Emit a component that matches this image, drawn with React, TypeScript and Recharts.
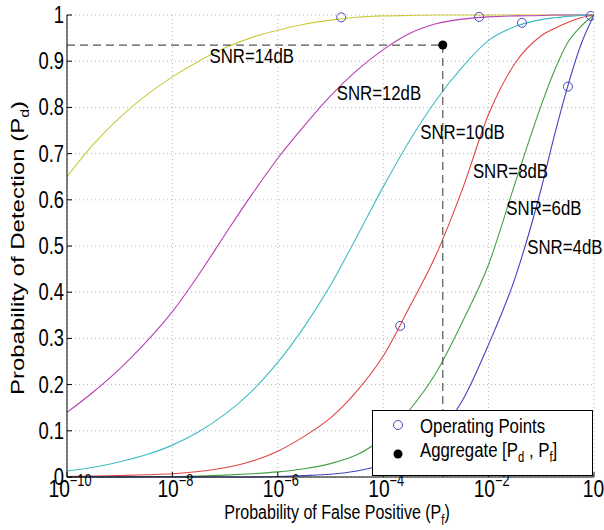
import React from "react";
import {
  ComposedChart,
  Line,
  Scatter,
  XAxis,
  YAxis,
  CartesianGrid,
  ReferenceDot,
} from "recharts";

// false positive grid shared by every ROC curve (half decades, finer near 1)
const pfGrid = [
  1e-10, 3.16e-10, 1e-9, 3.16e-9, 1e-8, 3.16e-8, 1e-7, 3.16e-7, 1e-6, 3.16e-6, 1e-5, 3.16e-5,
  1e-4, 3.16e-4, 1e-3, 3.16e-3, 1e-2, 3.16e-2, 0.1, 0.178, 0.316, 0.562, 1,
];

// detection probability for each SNR
const snr14 = [0.65, 0.72, 0.778, 0.826, 0.866, 0.9, 0.929, 0.951, 0.967, 0.98, 0.989, 0.995, 0.998, 0.999, 1, 1, 1, 1, 1, 1, 1, 1, 1];
const snr12 = [0.14, 0.184, 0.234, 0.292, 0.358, 0.438, 0.525, 0.61, 0.69, 0.76, 0.825, 0.88, 0.925, 0.96, 0.981, 0.991, 0.996, 0.998, 0.999, 1, 1, 1, 1];
const snr10 = [0.013, 0.021, 0.033, 0.048, 0.069, 0.098, 0.136, 0.185, 0.248, 0.325, 0.415, 0.52, 0.628, 0.728, 0.815, 0.887, 0.945, 0.975, 0.99, 0.994, 0.997, 0.999, 1];
const snr8 = [0.001, 0.002, 0.003, 0.005, 0.007, 0.012, 0.02, 0.034, 0.056, 0.088, 0.128, 0.186, 0.262, 0.368, 0.48, 0.622, 0.785, 0.895, 0.955, 0.971, 0.984, 0.994, 1];
const snr6 = [0, 0, 0, 0.001, 0.001, 0.002, 0.004, 0.007, 0.011, 0.018, 0.029, 0.048, 0.085, 0.145, 0.225, 0.335, 0.46, 0.635, 0.805, 0.88, 0.94, 0.975, 1];
const snr4 = [0, 0, 0, 0, 0, 0, 0, 0, 0.001, 0.003, 0.006, 0.013, 0.027, 0.05, 0.09, 0.165, 0.287, 0.43, 0.625, 0.74, 0.845, 0.935, 1];

const curveNames = ["SNR=14dB", "SNR=12dB", "SNR=10dB", "SNR=8dB", "SNR=6dB", "SNR=4dB"];
const curveValues = [snr14, snr12, snr10, snr8, snr6, snr4];
const curveColors = ["#caca3e", "#b640b6", "#40bcc4", "#e04444", "#44a044", "#4444c4"];

// where each curve label sits (data coordinates)
const labelPf = [3.2e-7, 8.3e-5, 3.2e-3, 0.026, 0.112, 0.28];
const labelPd = [0.913, 0.833, 0.747, 0.664, 0.584, 0.498];

// operating points and the aggregate point
const opPf = [1.6e-5, 6.6e-3, 0.043, 2.1e-4, 0.87, 0.32];
const opPd = [0.995, 0.996, 0.983, 0.327, 0.998, 0.845];
const aggPf = 1.35e-3;
const aggPd = 0.935;

const xTicks = [1e-10, 1e-8, 1e-6, 1e-4, 1e-2, 1];
const yTicks = [0, 0.1, 0.2, 0.3, 0.4, 0.5, 0.6, 0.7, 0.8, 0.9, 1];

const sans = "'Liberation Sans', Arial, sans-serif";
const SQ = 0.8; // the original figure's text is horizontally squeezed

const curves = curveValues.map((vals) => vals.map((pd, i) => ({ pf: pfGrid[i], pd })));
const opData = opPf.map((pf, i) => ({ pf, pd: opPd[i] }));
const aggData = [{ pf: aggPf, pd: aggPd }];
const hDash = [
  { pf: 1e-10, pd: aggPd },
  { pf: aggPf, pd: aggPd },
];
const vDash = [
  { pf: aggPf, pd: aggPd },
  { pf: aggPf, pd: 0 },
];

const Squeezed = ({ x, y, size, anchor = "start", children }: any) => (
  <g transform={`translate(${x},${y}) scale(${SQ},1)`}>
    <text x={0} y={0} textAnchor={anchor} fontFamily={sans} fontSize={size} fill="#000">
      {children}
    </text>
  </g>
);

const BottomTick = (props: any) => {
  const { x, y, payload } = props;
  const exp = Math.round(Math.log10(payload.value));
  return (
    <g>
      <line x1={x} x2={x} y1={y} y2={y - 5} stroke="#000" />
      <Squeezed x={x + 3} y={y + 20} size={24} anchor="middle">
        10
        <tspan dy={-11} fontSize={16}>
          {exp < 0 ? "\u2212" + Math.abs(exp) : String(exp)}
        </tspan>
      </Squeezed>
    </g>
  );
};

const TopTick = (props: any) => {
  const { x, y } = props;
  return <line x1={x} x2={x} y1={y} y2={y + 5} stroke="#000" />;
};

const LeftTick = (props: any) => {
  const { x, y, payload } = props;
  return (
    <g>
      <line x1={x} x2={x + 5} y1={y} y2={y} stroke="#000" />
      <Squeezed x={x - 3} y={y + 8} size={23} anchor="end">
        {String(payload.value)}
      </Squeezed>
    </g>
  );
};

const RightTick = (props: any) => {
  const { x, y } = props;
  return <line x1={x} x2={x - 5} y1={y} y2={y} stroke="#000" />;
};

const OpenCircle = (props: any) => (
  <circle cx={props.cx} cy={props.cy} r={4.5} fill="none" stroke="#4848c0" strokeWidth={1} />
);

const BlackDot = (props: any) => <circle cx={props.cx} cy={props.cy} r={4.5} fill="#000" />;

const CurveLabel = (props: any) => {
  const { viewBox, value } = props;
  const cx = viewBox.x + (viewBox.width || 0) / 2;
  const cy = viewBox.y + (viewBox.height || 0) / 2;
  return (
    <Squeezed x={cx} y={cy + 7.5} size={21} anchor="middle">
      {value}
    </Squeezed>
  );
};

export default function App() {
  return (
    <div style={{ position: "absolute", left: 0, top: 0, width: 604, height: 530, background: "#fff" }}>
      <ComposedChart width={604} height={530} margin={{ top: 15, right: 10, bottom: 0, left: 0 }}>
        <CartesianGrid stroke="#b8b8b8" strokeDasharray="1 3" />
        <XAxis
          dataKey="pf"
          type="number"
          scale="log"
          domain={[1e-10, 1]}
          ticks={xTicks}
          allowDataOverflow
          height={53}
          tickSize={0}
          tickMargin={0}
          tick={<BottomTick />}
          axisLine={{ stroke: "#000" }}
          label={{
            content: () => (
              <Squeezed x={337} y={519} size={20} anchor="middle">
                Probability of False Positive (P
                <tspan dy={6} fontSize={14}>f</tspan>
                <tspan dy={-6}>)</tspan>
              </Squeezed>
            ),
          }}
        />
        <XAxis
          xAxisId="top"
          orientation="top"
          dataKey="pf"
          type="number"
          scale="log"
          domain={[1e-10, 1]}
          ticks={xTicks}
          allowDataOverflow
          height={0}
          tickSize={0}
          tickMargin={0}
          tick={<TopTick />}
          axisLine={{ stroke: "#000" }}
        />
        <YAxis
          type="number"
          domain={[0, 1]}
          ticks={yTicks}
          width={67}
          tickSize={0}
          tickMargin={0}
          tick={<LeftTick />}
          axisLine={{ stroke: "#000" }}
          label={{
            content: () => (
              <g transform={`translate(24,248) scale(${SQ},1) rotate(-90)`}>
                <text x={0} y={0} textAnchor="middle" fontFamily={sans} fontSize={24} fill="#000">
                  Probability of Detection (P
                  <tspan dy={6} fontSize={16}>d</tspan>
                  <tspan dy={-6}>)</tspan>
                </text>
              </g>
            ),
          }}
        />
        <YAxis
          yAxisId="right"
          orientation="right"
          type="number"
          domain={[0, 1]}
          ticks={yTicks}
          width={0}
          tickSize={0}
          tickMargin={0}
          tick={<RightTick />}
          axisLine={{ stroke: "#000" }}
        />
        {curves.map((data, i) => (
          <Line
            key={curveNames[i]}
            data={data}
            dataKey="pd"
            type="monotone"
            stroke={curveColors[i]}
            strokeWidth={1.1}
            dot={false}
            isAnimationActive={false}
          />
        ))}
        <Line
          data={hDash}
          dataKey="pd"
          type="linear"
          stroke="#555"
          strokeWidth={1.2}
          strokeDasharray="8 5"
          dot={false}
          isAnimationActive={false}
        />
        <Line
          data={vDash}
          dataKey="pd"
          type="linear"
          stroke="#555"
          strokeWidth={1.2}
          strokeDasharray="8 5"
          dot={false}
          isAnimationActive={false}
        />
        <Scatter data={opData} dataKey="pd" shape={<OpenCircle />} isAnimationActive={false} />
        <Scatter data={aggData} dataKey="pd" shape={<BlackDot />} isAnimationActive={false} />
        {curveNames.map((name, i) => (
          <ReferenceDot
            key={"lbl" + name}
            x={labelPf[i]}
            y={labelPd[i]}
            r={0}
            fill="none"
            stroke="none"
            ifOverflow="visible"
            label={{ value: name, content: <CurveLabel /> }}
          />
        ))}
      </ComposedChart>
      <svg
        width={221}
        height={66}
        style={{ position: "absolute", left: 372, top: 410, background: "#fff" }}
      >
        <rect x={0.5} y={0.5} width={220} height={65} fill="#fff" stroke="#000" />
        <circle cx={26} cy={15} r={4.5} fill="none" stroke="#4848c0" />
        <circle cx={26} cy={44} r={4.5} fill="#000" />
        <Squeezed x={48} y={23} size={21}>
          Operating Points
        </Squeezed>
        <Squeezed x={48} y={47} size={21}>
          Aggregate [P
          <tspan dy={5} fontSize={14}>d</tspan>
          <tspan dy={-5}> , P</tspan>
          <tspan dy={5} fontSize={14}>f</tspan>
          <tspan dy={-5}>]</tspan>
        </Squeezed>
      </svg>
    </div>
  );
}
